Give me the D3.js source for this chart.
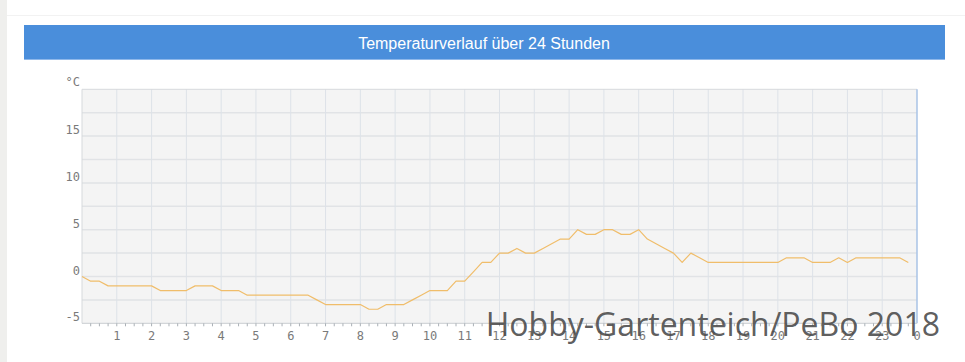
<!DOCTYPE html>
<html>
<head>
<meta charset="utf-8">
<script src="https://cdn.jsdelivr.net/npm/d3@7"></script>
<style>
  html, body { margin: 0; padding: 0; background: #ffffff; }
  svg { display: block; }
</style>
</head>
<body>
<svg id="chart" width="965" height="362"></svg>
<script>
// ---- data ----
const title = "Temperaturverlauf über 24 Stunden";
const unitLabel = "°C";
const watermark = "Hobby-Gartenteich/PeBo 2018";
// temperature every quarter hour, 00:00 .. 23:45
const temps = [
  0, -0.5, -0.5, -1, -1, -1, -1, -1, -1, -1.5, -1.5, -1.5,
  -1.5, -1, -1, -1, -1.5, -1.5, -1.5, -2, -2, -2, -2, -2,
  -2, -2, -2, -2.5, -3, -3, -3, -3, -3, -3.5, -3.5, -3,
  -3, -3, -2.5, -2, -1.5, -1.5, -1.5, -0.5, -0.5, 0.5, 1.5, 1.5,
  2.5, 2.5, 3, 2.5, 2.5, 3, 3.5, 4, 4, 5, 4.5, 4.5,
  5, 5, 4.5, 4.5, 5, 4, 3.5, 3, 2.5, 1.5, 2.5, 2,
  1.5, 1.5, 1.5, 1.5, 1.5, 1.5, 1.5, 1.5, 1.5, 2, 2, 2,
  1.5, 1.5, 1.5, 2, 1.5, 2, 2, 2, 2, 2, 2, 1.5
];
const hourLabels = ["1","2","3","4","5","6","7","8","9","10","11","12","13","14","15","16","17","18","19","20","21","22","23","0"];
const yTicks = [-5, 0, 5, 10, 15];
const yGrid = [-2.5, 0, 2.5, 5, 7.5, 10, 12.5, 15, 17.5];

// ---- layout ----
(function () {
const svg = d3.select("#chart");
const W = 965, H = 362;
const pL = 82, pR = 917, pT = 89.3, pB = 323.3;

// page decorations
svg.append("rect").attr("x", 0).attr("y", 0).attr("width", 7).attr("height", H).attr("fill", "#efefed");
svg.append("line").attr("x1", 7).attr("x2", W).attr("y1", 15.5).attr("y2", 15.5).attr("stroke", "#f2f2f2");

// title bar
svg.append("rect").attr("x", 24).attr("y", 25).attr("width", 921).attr("height", 35).attr("fill", "#4a8edb");
svg.append("line").attr("x1", 24).attr("x2", 945).attr("y1", 59.5).attr("y2", 59.5).attr("stroke", "#8fb8ea");
svg.append("text").attr("x", 484).attr("y", 48.5).attr("text-anchor", "middle")
  .attr("fill", "#ffffff").attr("font-family", "Liberation Sans, Arial, sans-serif")
  .attr("font-size", 16).text(title);

// scales (x over quarter-hour index)
const x = d3.scaleLinear().domain([0, 96]).range([pL, pR]);
const y = d3.scaleLinear().domain([-5, 20]).range([pB, pT]);

// plot background
svg.append("rect").attr("x", pL).attr("y", pT).attr("width", pR - pL).attr("height", pB - pT).attr("fill", "#f4f4f4");

// horizontal grid
svg.append("g").selectAll("line").data(yGrid).join("line")
  .attr("x1", pL).attr("x2", pR)
  .attr("y1", d => y(d)).attr("y2", d => y(d))
  .attr("stroke", "#e1e3e6").attr("stroke-width", 1.5);

// vertical grid (hours)
svg.append("g").selectAll("line").data(hourLabels.slice(0, 23)).join("line")
  .attr("x1", (d, i) => x((i + 1) * 4)).attr("x2", (d, i) => x((i + 1) * 4))
  .attr("y1", pT).attr("y2", pB)
  .attr("stroke", "#dde2e8").attr("stroke-width", 1);

// frame
svg.append("line").attr("x1", pL).attr("x2", pR).attr("y1", pT).attr("y2", pT).attr("stroke", "#d6d9dc");
svg.append("line").attr("x1", pL).attr("x2", pL).attr("y1", pT).attr("y2", pB).attr("stroke", "#d6d9dc");
svg.append("line").attr("x1", pR).attr("x2", pR).attr("y1", pT).attr("y2", pB).attr("stroke", "#a9c3e6").attr("stroke-width", 1.5);
svg.append("line").attr("x1", pL).attr("x2", pR).attr("y1", pB).attr("y2", pB).attr("stroke", "#c9ccd0");

// x axis minor ticks (every quarter hour)
svg.append("g").selectAll("line").data(d3.range(1, 96)).join("line")
  .attr("x1", d => x(d)).attr("x2", d => x(d))
  .attr("y1", pB).attr("y2", pB + 3)
  .attr("stroke", "#aab0b6").attr("stroke-width", 1);

// x labels
svg.append("g").selectAll("text").data(hourLabels).join("text")
  .attr("x", (d, i) => x((i + 1) * 4)).attr("y", 340)
  .attr("text-anchor", "middle")
  .attr("font-family", "DejaVu Sans Mono, monospace").attr("font-size", 12)
  .attr("fill", "#7a7a7a").text(d => d);

// y labels
svg.append("g").selectAll("text").data(yTicks).join("text")
  .attr("x", 80).attr("y", d => y(d) - 2)
  .attr("text-anchor", "end")
  .attr("font-family", "DejaVu Sans Mono, monospace").attr("font-size", 12)
  .attr("fill", "#7a7a7a").text(d => String(d));
svg.append("text").attr("x", 80).attr("y", 86).attr("text-anchor", "end")
  .attr("font-family", "DejaVu Sans Mono, monospace").attr("font-size", 12)
  .attr("fill", "#7a7a7a").text(unitLabel);

// line
const line = d3.line().x((d, i) => x(i)).y(d => y(d));
svg.append("path").datum(temps).attr("d", line)
  .attr("fill", "none").attr("stroke", "#f0bd6a").attr("stroke-width", 1.2)
  .attr("stroke-linejoin", "round");

// watermark
svg.append("text").attr("x", 940).attr("y", 336).attr("text-anchor", "end")
  .attr("font-family", "Open Sans, Noto Sans, sans-serif").attr("font-size", 32)
  .attr("fill", "#4a4a4a").attr("fill-opacity", 0.9).text(watermark);
})();
</script>
</body>
</html>
